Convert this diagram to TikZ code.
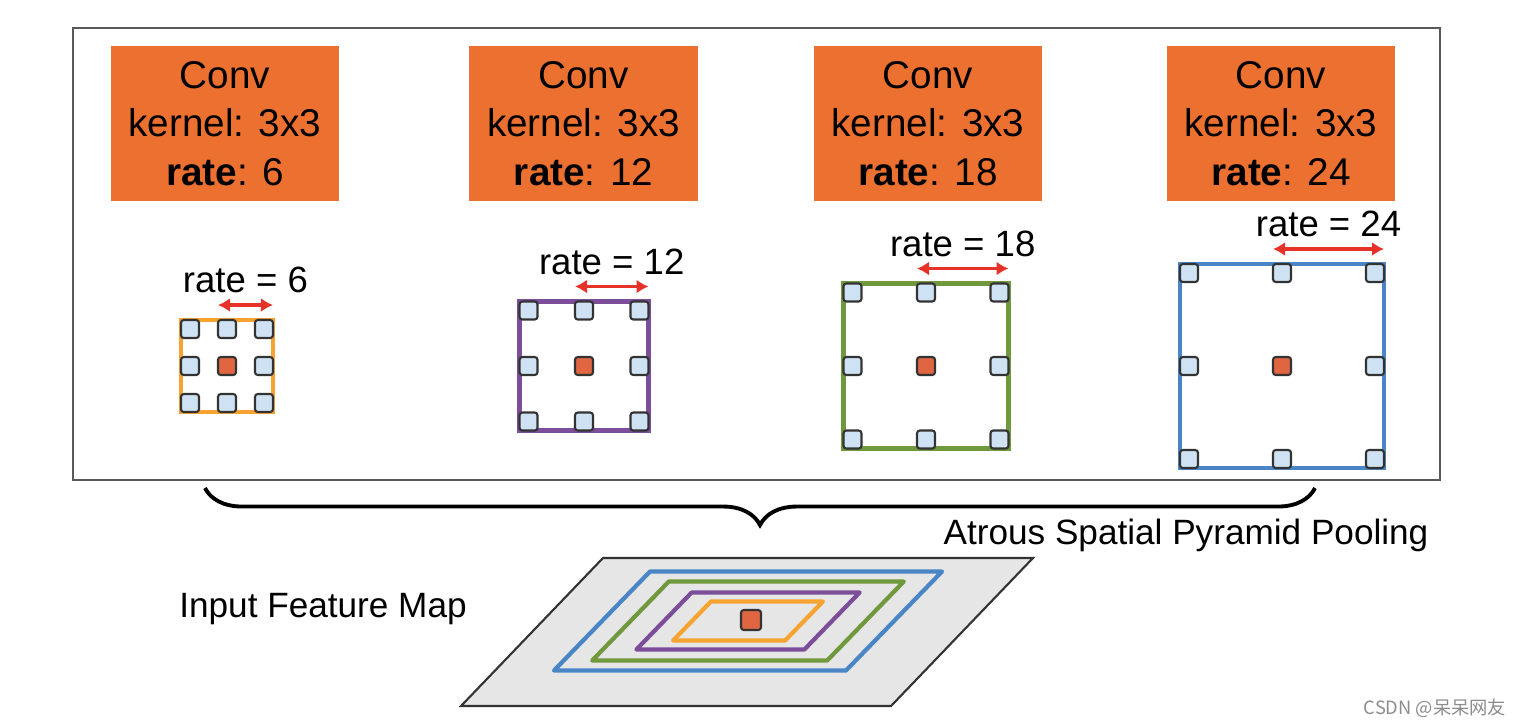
\documentclass[tikz,border=0pt]{standalone}
\usepackage{fontspec}
\setmainfont{Liberation Sans}
\newfontfamily\cjkfont{Noto Sans CJK SC}
\usetikzlibrary{arrows.meta,decorations.pathreplacing,positioning}

\definecolor{convorange}{RGB}{236,112,48}
\definecolor{cellblue}{RGB}{207,226,243}
\definecolor{hitred}{RGB}{224,102,65}
\definecolor{spanred}{RGB}{230,50,40}
\definecolor{ringorange}{RGB}{246,163,50}
\definecolor{ringpurple}{RGB}{124,78,154}
\definecolor{ringgreen}{RGB}{112,152,60}
\definecolor{ringblue}{RGB}{74,134,198}
\definecolor{sheetgray}{RGB}{230,230,230}

\begin{document}
\begin{tikzpicture}[
    x=0.01cm, y=-0.01cm,
    every node/.style={font=\fontsize{10.4}{13.7}\selectfont},
    convbox/.style={fill=convorange, minimum width=2.28cm, minimum height=1.55cm,
                    align=center, inner sep=0pt, font=\fontsize{11}{13.7}\selectfont},
    panel/.style={draw=black!65, line width=0.7pt},
    kframe/.style={line width=1.3pt},
    cell/.style={draw=black!80, fill=cellblue, minimum size=0.18cm, inner sep=0pt,
                 line width=0.6pt, rounded corners=0.8pt},
    hitcell/.style={cell, fill=hitred},
    span/.style={<->, >={Latex[length=0.12cm, width=0.14cm]}, draw=spanred, line width=1pt},
    ratelabel/.style={inner sep=0pt},
    sheet/.style={fill=sheetgray, draw=black!80, line width=0.6pt},
    ring/.style={line width=1.2pt, line join=round},
    brc/.style={decorate, decoration={brace, amplitude=0.37cm}, line width=1.1pt},
]
\useasboundingbox (0,0) rectangle (1518,726);

% ASPP panel
\draw[panel] (73,28) rectangle (1440,480);

\foreach \rt/\cx in {6/225, 12/583.5, 18/928, 24/1281}
    \node[convbox] (conv\rt) at (\cx,123.5) {Conv\\kernel: 3x3\\\textbf{rate}: \rt};

% dilated 3x3 kernels
\foreach \rt/\cx/\d/\col in {6/227/37/ringorange, 12/584/55.5/ringpurple,
                             18/926/73.5/ringgreen, 24/1282/93/ringblue} {
    \draw[kframe, draw=\col] ({\cx-\d-9},{366-\d-9}) rectangle ({\cx+\d+9},{366+\d+9});
    \foreach \i/\j [count=\n] in {-1/-1, 0/-1, 1/-1, -1/0, 1/0, -1/1, 0/1, 1/1}
        \node[cell] (k\rt-\n) at ({\cx+\i*\d},{366+\j*\d}) {};
    \node[hitcell] (k\rt-c) at (\cx,366) {};
    \coordinate (s\rt l) at ({\cx-9},{366-\d-24});
    \coordinate (s\rt r) at ({\cx+\d+9},{366-\d-24});
    \draw[span] (s\rt l) -- node[ratelabel, above=0.1cm] (lab\rt) {rate = \rt} (s\rt r);
}

% brace
\coordinate (bracer) at (1315,488);
\coordinate (bracel) at (205,488);
\draw[brc] (bracer) -- (bracel);
\node[font=\fontsize{10}{12}\selectfont] (aspp) at (1186,535) {Atrous Spatial Pyramid Pooling};

% input feature map
\draw[sheet] (603,558) -- (1033,558) -- (891,706) -- (461,706) -- cycle;
\foreach \w/\h/\col in {146/49.5/ringblue, 117.5/39.5/ringgreen,
                        84/28.5/ringpurple, 56/19.5/ringorange}
    \draw[ring, draw=\col] ({748-\w+0.97*\h},{621-\h}) -- ({748+\w+0.97*\h},{621-\h})
        -- ({748+\w-0.97*\h},{621+\h}) -- ({748-\w-0.97*\h},{621+\h}) -- cycle;
\node[hitcell, minimum size=0.2cm] (mapc) at (751,620) {};
\node[font=\fontsize{10}{12}\selectfont] (ifm) at (323,609) {Input Feature Map};

\node[text=black!45, font=\cjkfont\fontsize{5.2}{6}\selectfont] (mark) at (1435,708) {CSDN @呆呆网友};
\end{tikzpicture}
\end{document}
